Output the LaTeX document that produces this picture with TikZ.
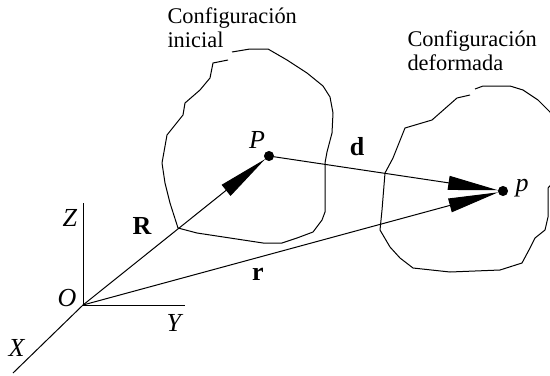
\documentclass[tikz,border=0pt]{standalone}
\usepackage{fontspec}
\setmainfont{Liberation Serif}
\usetikzlibrary{positioning,arrows.meta}

\begin{document}
\begin{tikzpicture}[
  x=0.5pt, y=-0.5pt,
  line width=0.5pt,
  caption/.style={align=left, inner sep=0pt, anchor=north west, font=\fontsize{11.2}{12}\selectfont},
  lbl/.style={inner sep=0pt, font=\fontsize{13}{15}\selectfont},
  dot/.style={draw, circle, fill, inner sep=0pt, minimum size=4.5pt},
  vec/.style={-{Triangle[length=25pt, width=7pt]}},
  blob/.style={line join=round}
]
\useasboundingbox (0,0) rectangle (550,375);
\clip (0,0) rectangle (550,375);

% axes
\coordinate (O) at (83,305);
\coordinate (Zend) at (83,203);
\coordinate (Yend) at (185,305);
\coordinate (Xend) at (13,373);
\draw (O) -- (Zend);
\draw (O) -- (Yend);
\draw (O) -- (Xend);

% configurations
\draw[blob] (232,52) -- (250,49) -- (268,49) -- (287,60) -- (307,73) -- (323,86)
  -- (330,97) -- (333,113) -- (332,133) -- (327,152) -- (325,163) -- (325,212)
  -- (322,220) -- (313,232) -- (297,238) -- (282,243) -- (263,243) -- (230,238)
  -- (197,233) -- (178,228) -- (170,203) -- (165,183) -- (162,163) -- (167,135)
  -- (183,115) -- (185,103) -- (200,90) -- (210,78) -- (213,63) -- (228,60);
\draw[blob] (475,89) -- (483,86) -- (510,86) -- (523,90) -- (538,100) -- (550,112)
  -- (558,130) -- (560,150) -- (555,180) -- (548,188) -- (548,217) -- (545,230)
  -- (535,238) -- (530,248) -- (522,263) -- (500,270) -- (450,272) -- (413,268)
  -- (400,258) -- (390,247) -- (380,230) -- (382,210) -- (385,173) -- (393,158)
  -- (405,128) -- (432,120) -- (457,98) -- (470,95);

% points
\node[dot] (P) at (269,156) {};
\node[dot] (p) at (503,191) {};

% vectors
\draw[vec] (O) -- (P);
\draw[vec] (P) -- (p);
\draw[vec] (O) -- (p);

% labels
\node[caption] (inicial) at (167,7) {Configuración\\inicial};
\node[caption] (deformada) at (407,30) {Configuración\\deformada};
\node[lbl] (lblZ) at (70,218) {\textit{Z}};
\node[lbl] (lblO) at (67,298) {\textit{O}};
\node[lbl] (lblY) at (175,323) {\textit{Y}};
\node[lbl] (lblX) at (17,348) {\textit{X}};
\node[lbl] (lblR) at (142,226) {\textbf{R}};
\node[lbl] (lblr) at (258,274) {\textbf{r}};
\node[lbl] (lbld) at (357,147) {\textbf{d}};
\node[lbl] (lblP) at (257,140) {\textit{P}};
\node[lbl] (lblp) at (522,188) {\textit{p}};
\end{tikzpicture}
\end{document}
